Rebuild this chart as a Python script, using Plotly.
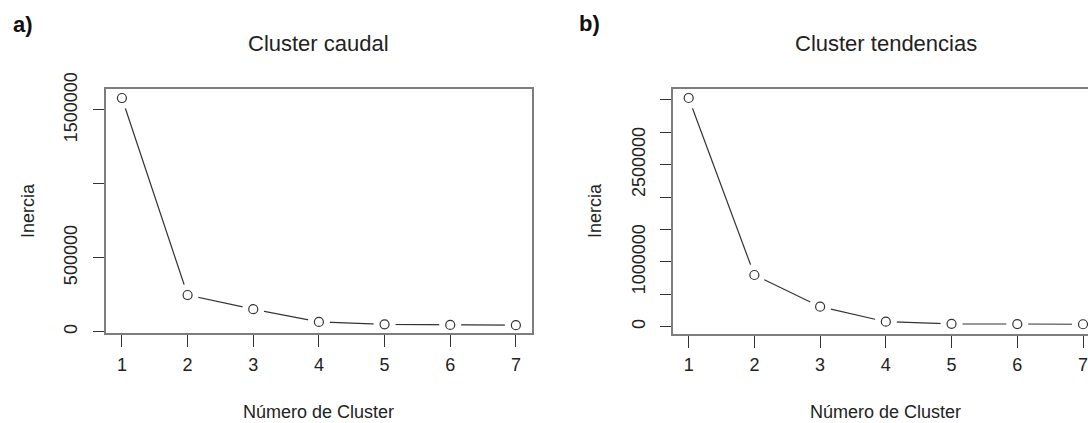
import plotly.graph_objects as go

# ---- data ----
clusters = [1, 2, 3, 4, 5, 6, 7]
inercia_caudal = [1581000, 248000, 152000, 66000, 50000, 46000, 44000]
inercia_tendencias = [3531000, 798000, 309000, 77000, 45000, 40000, 38000]

caudal_tickvals = [0, 500000, 1000000, 1500000]
caudal_ticktext = ["0", "500000", "", "1500000"]
tend_tickvals = [0, 500000, 1000000, 1500000, 2000000, 2500000, 3000000, 3500000]
tend_ticktext = ["0", "", "1000000", "", "", "2500000", "", ""]

titles = ["Cluster caudal", "Cluster tendencias"]
panel_tags = ["a)", "b)"]
xlabel = "Número de Cluster"
ylabel = "Inercia"

W, H = 1088, 423
FONT = "Liberation Sans, Arial, sans-serif"
INK = "#222222"
BOX = "#7d7d7d"

fig = go.Figure()

for vals, xa, ya in [(inercia_caudal, "x", "y"), (inercia_tendencias, "x2", "y2")]:
    fig.add_trace(go.Scatter(x=clusters, y=vals, mode="lines",
                             line=dict(color="#333333", width=1.2),
                             xaxis=xa, yaxis=ya, showlegend=False, hoverinfo="skip"))
    # white halo to create the R type="b" gaps around points
    fig.add_trace(go.Scatter(x=clusters, y=vals, mode="markers",
                             marker=dict(symbol="circle", size=22, color="white",
                                         line=dict(width=0)),
                             xaxis=xa, yaxis=ya, showlegend=False, hoverinfo="skip",
                             cliponaxis=False))
    fig.add_trace(go.Scatter(x=clusters, y=vals, mode="markers",
                             marker=dict(symbol="circle-open", size=9, color="#333333",
                                         line=dict(width=1.2)),
                             xaxis=xa, yaxis=ya, showlegend=False,
                             cliponaxis=False))

def px_x(p):
    return p / W

def px_y(p):
    return 1 - p / H

common_x = dict(tickvals=clusters, ticks="outside", ticklen=12, tickwidth=1.2,
                tickcolor="#333333", showline=True, linecolor=BOX, linewidth=2,
                showgrid=False, zeroline=False, automargin=False,
                ticklabelstandoff=2, ticklabeloverflow="allow",
                tickfont=dict(family=FONT, size=18, color=INK))
common_y = dict(ticks="outside", ticklen=11, tickwidth=1.2, tickcolor="#333333",
                showline=True, linecolor=BOX, linewidth=2, showgrid=False,
                zeroline=False, tickangle=-90, automargin=False,
                ticklabelstandoff=8, ticklabeloverflow="allow",
                tickfont=dict(family=FONT, size=18, color=INK))

fig.update_layout(
    template="none",
    width=W, height=H,
    margin=dict(l=0, r=0, t=0, b=0, autoexpand=False),
    paper_bgcolor="white", plot_bgcolor="white",
    showlegend=False,
    xaxis=dict(domain=[px_x(105.5), px_x(532.3)], range=[0.75, 7.25],
               mirror=True, anchor="y", **common_x),
    yaxis=dict(domain=[px_y(333.3), px_y(89.3)], range=[-11000, 1640000],
               tickvals=caudal_tickvals, ticktext=caudal_ticktext,
               mirror=True, anchor="x", **common_y),
    xaxis2=dict(domain=[px_x(672.7), 1.0], range=[0.757, 7.076],
                mirror=True, anchor="y2", **common_x),
    yaxis2=dict(domain=[px_y(333.5), px_y(89.3)], range=[-105000, 3665000],
                tickvals=tend_tickvals, ticktext=tend_ticktext,
                mirror=False, anchor="x2", **common_y),
)

ann = []
centers = [318.7, 885.7]
ylab_x = [28, 595]
tag_pos = [(22.5, 25), (589, 24)]
for i in range(2):
    ann.append(dict(text=titles[i], x=px_x(centers[i]), y=px_y(43),
                    xref="paper", yref="paper", xanchor="center", yanchor="middle",
                    showarrow=False, font=dict(family=FONT, size=22, color=INK)))
    ann.append(dict(text=xlabel, x=px_x(centers[i]), y=px_y(412),
                    xref="paper", yref="paper", xanchor="center", yanchor="middle",
                    showarrow=False, font=dict(family=FONT, size=18, color=INK)))
    ann.append(dict(text=ylabel, x=px_x(ylab_x[i]), y=px_y(211),
                    xref="paper", yref="paper", xanchor="center", yanchor="middle",
                    textangle=-90, showarrow=False,
                    font=dict(family=FONT, size=18, color=INK)))
    ann.append(dict(text="<b>" + panel_tags[i] + "</b>", x=px_x(tag_pos[i][0]),
                    y=px_y(tag_pos[i][1]), xref="paper", yref="paper",
                    xanchor="center", yanchor="middle", showarrow=False,
                    font=dict(family=FONT, size=22, color="#111111")))
fig.update_layout(annotations=ann)

fig.write_html("out.html")
